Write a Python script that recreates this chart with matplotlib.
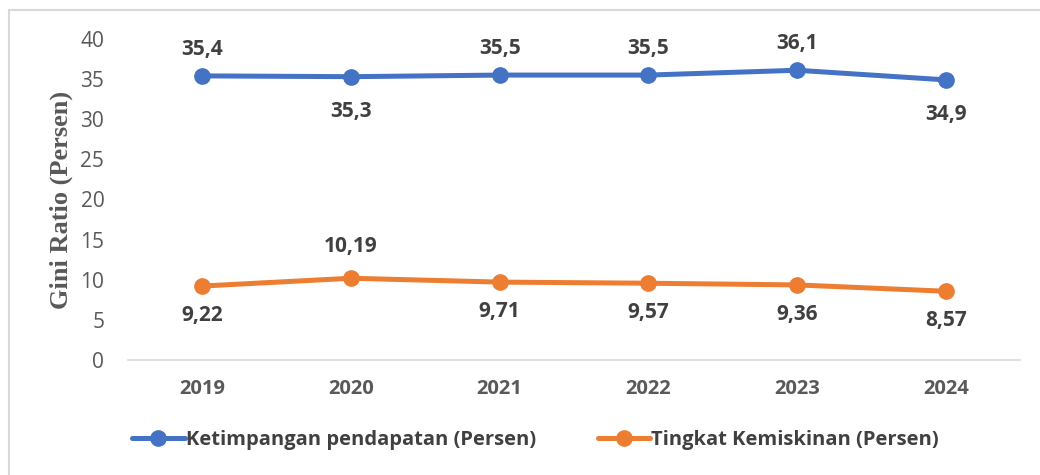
import matplotlib.pyplot as plt
from matplotlib.patches import Rectangle

years = ["2019", "2020", "2021", "2022", "2023", "2024"]
gini = [35.4, 35.3, 35.5, 35.5, 36.1, 34.9]
poverty = [9.22, 10.19, 9.71, 9.57, 9.36, 8.57]
gini_label_pos = ["above", "below", "above", "above", "above", "below"]
poverty_label_pos = ["below", "above", "below", "below", "below", "below"]

blue = "#4472C4"
orange = "#ED7D31"
text_dark = "#404040"
tick_grey = "#595959"

plt.rcParams["font.family"] = ["Open Sans", "DejaVu Sans"]

fig = plt.figure(figsize=(10.4, 4.75), dpi=100)
ax = fig.add_axes([0.123, 0.242, 0.858, 0.676])

x = list(range(len(years)))
ax.plot(x, gini, color=blue, lw=3.6, marker="o", ms=11,
        label="Ketimpangan pendapatan (Persen)", solid_capstyle="round")
ax.plot(x, poverty, color=orange, lw=3.6, marker="o", ms=11,
        label="Tingkat Kemiskinan (Persen)", solid_capstyle="round")


def add_labels(values, positions, up, down):
    for xi, v, pos in zip(x, values, positions):
        txt = f"{v}".replace(".", ",")
        dy = up if pos == "above" else -down
        ax.annotate(txt, (xi, v), xytext=(0, dy), textcoords="offset points",
                    ha="center", va="center", fontsize=15, fontweight="bold",
                    color=text_dark)


add_labels(gini, gini_label_pos, 19, 25)
add_labels(poverty, poverty_label_pos, 23, 21)

ax.set_xlim(-0.5, len(years) - 0.5)
ax.set_ylim(0, 40)
ax.set_yticks(range(0, 41, 5))
ax.set_xticks(x)
ax.set_xticklabels(years, fontweight="bold")
ax.tick_params(axis="y", length=0, pad=17, labelsize=15, labelcolor=tick_grey)
ax.tick_params(axis="x", length=0, pad=14, labelsize=14.5, labelcolor=tick_grey)

for side in ["top", "right", "left"]:
    ax.spines[side].set_visible(False)
ax.spines["bottom"].set_color("#D9D9D9")
ax.spines["bottom"].set_linewidth(1.2)

ax.set_ylabel("Gini Ratio (Persen)", family="Liberation Serif", fontweight="bold",
              fontsize=19, color=tick_grey, labelpad=5)

fig.legend(loc="center", bbox_to_anchor=(0.515, 0.073), ncol=2, frameon=False,
           fontsize=14.5, handlelength=2.6, handletextpad=0.05, columnspacing=3.1,
           labelcolor=text_dark)
for t in fig.legends[0].get_texts():
    t.set_fontweight("bold")

fig.patches.append(Rectangle((9 / 1040, -0.1), 1.2, 1 - 10 / 475 + 0.1,
                             transform=fig.transFigure, fill=False,
                             edgecolor="#D9D9D9", lw=1.5))

fig.savefig("out.png", dpi=100)
